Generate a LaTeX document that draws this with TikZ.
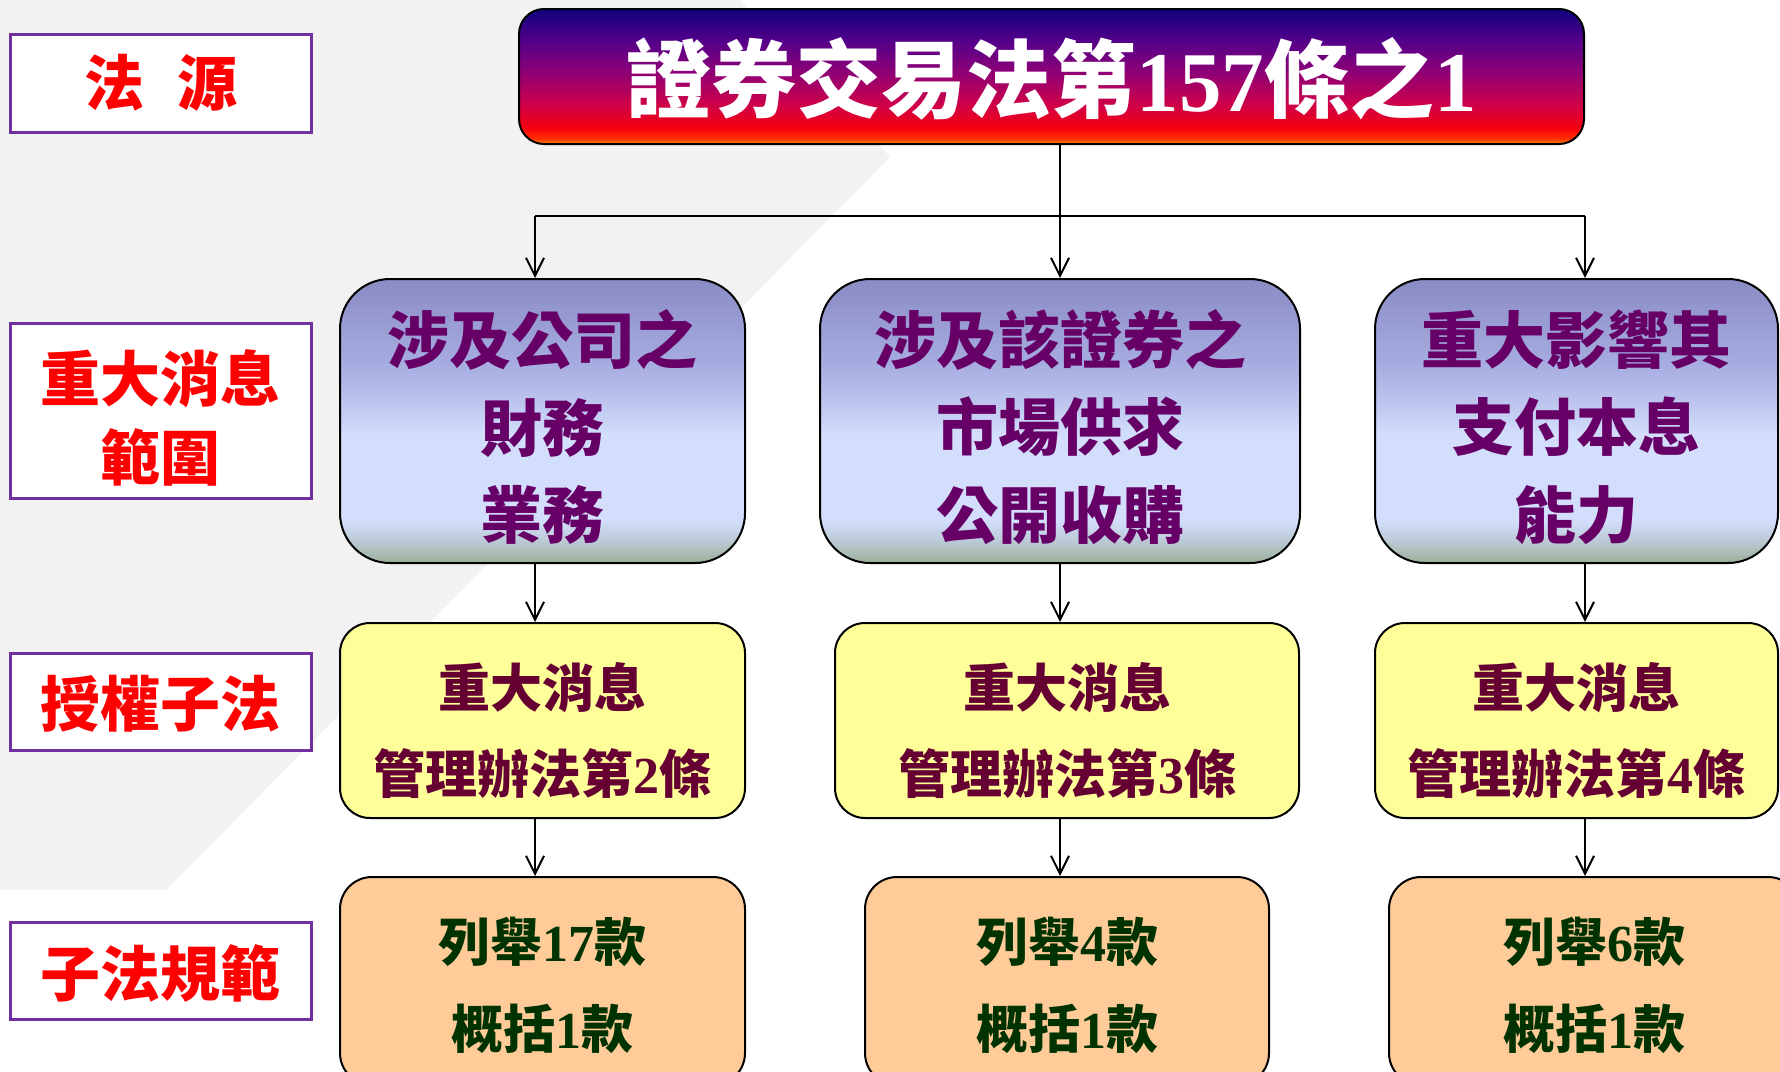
\documentclass[tikz,border=0pt]{standalone}
\usepackage{fontspec}
\setmainfont{Liberation Serif}
\newfontfamily\cjk{Noto Sans CJK TC}
\usetikzlibrary{arrows.meta}
\definecolor{bgrey}{HTML}{F2F2F2}
\definecolor{labpurple}{HTML}{7030A0}
\definecolor{txtpurple}{HTML}{660066}
\definecolor{txtmaroon}{HTML}{660033}
\definecolor{txtgreen}{HTML}{003300}
\definecolor{yel}{HTML}{FFFF99}
\definecolor{peach}{HTML}{FFCC99}
\definecolor{tA}{HTML}{FF8C00}
\definecolor{tB}{HTML}{FF3000}
\definecolor{tC}{HTML}{F50010}
\definecolor{tD}{HTML}{CC004A}
\definecolor{tE}{HTML}{8C0078}
\definecolor{tF}{HTML}{55008A}
\definecolor{tG}{HTML}{10007E}
\definecolor{bA}{HTML}{9AAF9A}
\definecolor{bB}{HTML}{BCCAD6}
\definecolor{bC}{HTML}{D3DEFC}
\definecolor{bD}{HTML}{C0C8F0}
\definecolor{bE}{HTML}{A5ABDF}
\definecolor{bF}{HTML}{8A8CC4}
\pgfdeclareverticalshading{topshade}{100bp}{color(0bp)=(tA); color(25bp)=(tA); color(27bp)=(tB); color(31bp)=(tC); color(40bp)=(tD); color(52bp)=(tE); color(63bp)=(tF); color(75bp)=(tG); color(100bp)=(tG)}
\pgfdeclareverticalshading{blueshade}{100bp}{color(0bp)=(bA); color(25bp)=(bA); color(29bp)=(bB); color(32.5bp)=(bC); color(47.5bp)=(bC); color(52.5bp)=(bD); color(60.5bp)=(bE); color(75bp)=(bF); color(100bp)=(bF)}
\newcommand\dgt[1]{{\rmfamily #1}}
\begin{document}
\begin{tikzpicture}[x=1pt,y=-1pt,
  lab/.style={draw=labpurple, line width=3pt, fill=white, minimum width=301pt, inner sep=0pt},
  labtxt/.style={inner sep=0pt, text=red, align=center, font=\cjk\bfseries\fontsize{60}{79}\selectfont},
  topbox/.style={draw=black, line width=2pt, rounded corners=25pt, shade, shading=topshade,
    minimum width=1065pt, minimum height=135pt, inner sep=0pt},
  toptxt/.style={inner sep=0pt, text=white, font=\cjk\bfseries\fontsize{85}{96}\selectfont},
  bluebox/.style={draw=black, line width=2pt, rounded corners=50pt, shade, shading=blueshade,
    minimum height=284pt, inner sep=0pt},
  bluetxt/.style={inner sep=0pt, text=txtpurple, align=center, font=\cjk\bfseries\fontsize{62}{87.5}\selectfont},
  yelbox/.style={draw=black, line width=2pt, rounded corners=30pt, fill=yel,
    minimum height=195pt, inner sep=0pt},
  yeltxt/.style={inner sep=0pt, text=txtmaroon, align=center, font=\cjk\bfseries\fontsize{52}{86}\selectfont},
  orbox/.style={draw=black, line width=2pt, rounded corners=32pt, fill=peach,
    minimum height=208pt, inner sep=0pt},
  ortxt/.style={inner sep=0pt, text=txtgreen, align=center, font=\cjk\bfseries\fontsize{52}{87}\selectfont},
  conn/.style={draw=black, line width=2.5pt},
  arr/.style={draw=black, line width=2pt, -{Straight Barb[length=18pt,width=18pt,line width=2pt]}}
]
\useasboundingbox (0,0) rectangle (1780,1071);
\fill[white] (0,0) rectangle (1780,1071);
\fill[bgrey] (0,0) -- (740,0) -- (890,157) -- (166,890) -- (0,890) -- cycle;

% left labels
\node[lab, minimum height=98pt] (L1) at (160.5,83) {};
\node[labtxt] (L1t) at (L1.center) {法\hspace{0.55em}源};
\node[lab, minimum height=175pt] (L2) at (160.5,411) {};
\node[labtxt] (L2t) at ([yshift=-7pt]L2.center) {重大消息\\範圍};
\node[lab, minimum height=97pt] (L3) at (160.5,702) {};
\node[labtxt] (L3t) at ([yshift=-2pt]L3.center) {授權子法};
\node[lab, minimum height=97pt] (L4) at (160.5,971) {};
\node[labtxt] (L4t) at ([yshift=-2pt]L4.center) {子法規範};

% top box
\node[topbox] (T) at (1051.5,76.5) {};
\node[toptxt] (Tt) at ([yshift=-2pt]T.center) {證券交易法第\dgt{157}條之\dgt{1}};

% row 2
\node[bluebox, minimum width=405pt] (B1) at (542.5,421) {};
\node[bluebox, minimum width=480pt] (B2) at (1060,421) {};
\node[bluebox, minimum width=403pt] (B3) at (1576.5,421) {};
\node[bluetxt] (B1t) at ([yshift=-6pt]B1.center) {涉及公司之\\財務\\業務};
\node[bluetxt] (B2t) at ([yshift=-6pt]B2.center) {涉及該證券之\\市場供求\\公開收購};
\node[bluetxt] (B3t) at ([yshift=-6pt]B3.center) {重大影響其\\支付本息\\能力};

% row 3
\node[yelbox, minimum width=405pt] (Y1) at (542.5,720.5) {};
\node[yelbox, minimum width=464pt] (Y2) at (1067,720.5) {};
\node[yelbox, minimum width=403pt] (Y3) at (1576.5,720.5) {};
\node[yeltxt] (Y1t) at ([yshift=-10pt]Y1.center) {重大消息\\管理辦法第\dgt{2}條};
\node[yeltxt] (Y2t) at ([yshift=-10pt]Y2.center) {重大消息\\管理辦法第\dgt{3}條};
\node[yeltxt] (Y3t) at ([yshift=-10pt]Y3.center) {重大消息\\管理辦法第\dgt{4}條};

% row 4
\node[orbox, minimum width=405pt] (O1) at (542.5,981) {};
\node[orbox, minimum width=404pt] (O2) at (1067,981) {};
\node[orbox, minimum width=411pt] (O3) at (1594.5,981) {};
\node[ortxt] (O1t) at ([yshift=-4pt]O1.center) {列舉\dgt{17}款\\概括\dgt{1}款};
\node[ortxt] (O2t) at ([yshift=-4pt]O2.center) {列舉\dgt{4}款\\概括\dgt{1}款};
\node[ortxt] (O3t) at ([yshift=-4pt]O3.center) {列舉\dgt{6}款\\概括\dgt{1}款};

% connectors
\coordinate (cL) at (535,216);
\coordinate (cM) at (1060,216);
\coordinate (cR) at (1585,216);
\draw[conn] (cL) -- (cR);
\draw[arr] (T.south -| cM) -- (B2.north -| cM);
\draw[arr] (cL) -- (B1.north -| cL);
\draw[arr] (cR) -- (B3.north -| cR);
\draw[arr] (B1.south -| cL) -- (Y1.north -| cL);
\draw[arr] (B2.south -| cM) -- (Y2.north -| cM);
\draw[arr] (B3.south -| cR) -- (Y3.north -| cR);
\draw[arr] (Y1.south -| cL) -- (O1.north -| cL);
\draw[arr] (Y2.south -| cM) -- (O2.north -| cM);
\draw[arr] (Y3.south -| cR) -- (O3.north -| cR);
\end{tikzpicture}
\end{document}
